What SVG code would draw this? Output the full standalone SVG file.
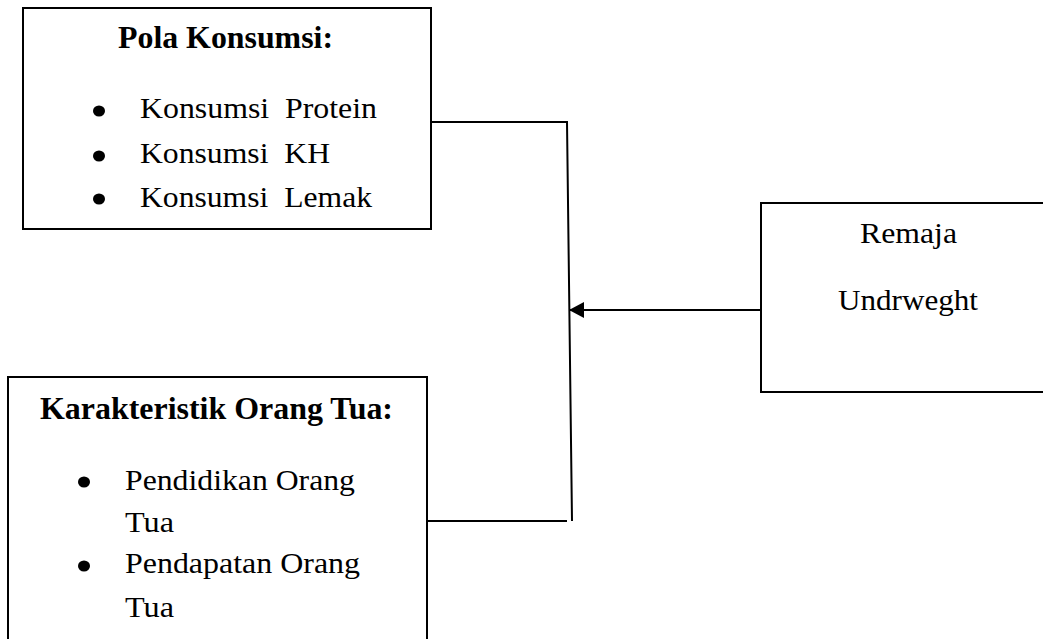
<svg xmlns="http://www.w3.org/2000/svg" width="1043" height="639" viewBox="0 0 1043 639">
<style>
.box{fill:#fff;stroke:#000;stroke-width:2}
.t{font-family:"Liberation Serif","Times New Roman",serif;fill:#000;white-space:pre}
.b{font-weight:bold;font-size:31px}
.r{font-size:29.5px}
.ln{fill:none;stroke:#000;stroke-width:2}
</style>
<defs>
<marker id="ah" markerWidth="16" markerHeight="16" refX="15" refY="8" orient="auto" markerUnits="userSpaceOnUse">
<path d="M0,0 L15,8 L0,16 Z" fill="#000"/>
</marker>
</defs>
<rect width="1043" height="639" fill="#fff"/>
<g id="connectors">
<polyline class="ln" points="431,122 567,122 572,521"/>
<line class="ln" x1="427" y1="521" x2="567" y2="521"/>
<line class="ln" x1="761" y1="310" x2="569" y2="310" marker-end="url(#ah)"/>
</g>
<g id="pola-konsumsi">
<rect class="box" x="23" y="8" width="408" height="221"/>
<text class="t b" x="118" y="48" textLength="215" lengthAdjust="spacingAndGlyphs">Pola Konsumsi:</text>
<ellipse cx="99" cy="111" rx="6" ry="5.5"/>
<ellipse cx="99" cy="156" rx="6" ry="5.5"/>
<ellipse cx="99" cy="199" rx="6" ry="5.5"/>
<text class="t r" x="140" y="118" textLength="237" lengthAdjust="spacingAndGlyphs">Konsumsi  Protein</text>
<text class="t r" x="140" y="163" textLength="190" lengthAdjust="spacingAndGlyphs">Konsumsi  KH</text>
<text class="t r" x="140" y="207" textLength="232" lengthAdjust="spacingAndGlyphs">Konsumsi  Lemak</text>
</g>
<g id="karakteristik">
<rect class="box" x="8" y="377" width="419" height="280"/>
<text class="t b" x="40" y="419" textLength="353" lengthAdjust="spacingAndGlyphs">Karakteristik Orang Tua:</text>
<ellipse cx="84" cy="482" rx="6" ry="5.5"/>
<ellipse cx="84" cy="566" rx="6" ry="5.5"/>
<text class="t r" x="125" y="490" textLength="230" lengthAdjust="spacingAndGlyphs">Pendidikan Orang</text>
<text class="t r" x="125" y="532" textLength="49" lengthAdjust="spacingAndGlyphs">Tua</text>
<text class="t r" x="125" y="573" textLength="235" lengthAdjust="spacingAndGlyphs">Pendapatan Orang</text>
<text class="t r" x="125" y="617" textLength="49" lengthAdjust="spacingAndGlyphs">Tua</text>
</g>
<g id="remaja">
<rect class="box" x="761" y="203" width="300" height="189"/>
<text class="t r" x="860" y="243" textLength="97" lengthAdjust="spacingAndGlyphs">Remaja</text>
<text class="t r" x="838" y="310" textLength="140" lengthAdjust="spacingAndGlyphs">Undrweght</text>
</g>
</svg>
